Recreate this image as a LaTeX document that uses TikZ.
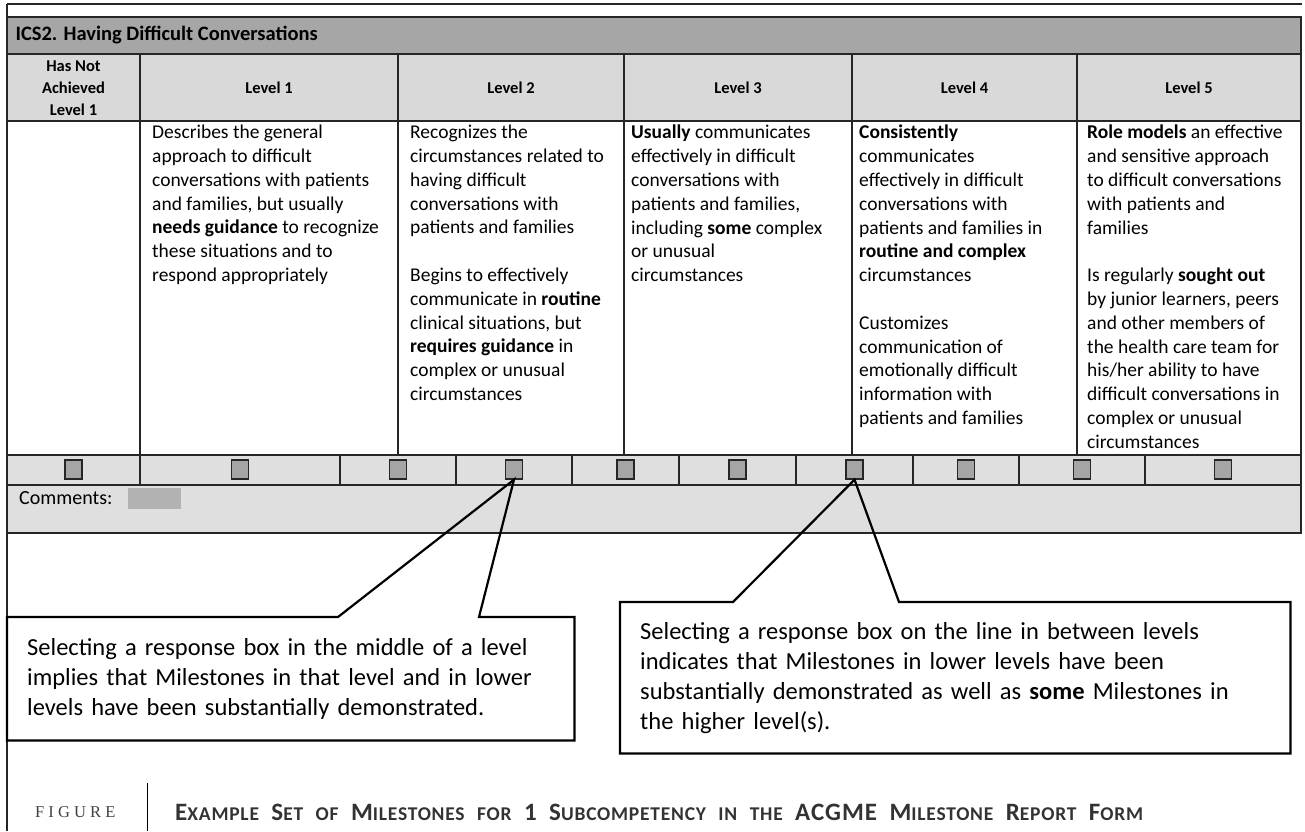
\documentclass[tikz,border=0pt]{standalone}
\usepackage{fontspec}
\setmainfont{Carlito}
\newfontfamily\figfont[LetterSpace=25]{Liberation Serif}
\newfontfamily\capfont[LetterSpace=4, WordSpace=2.4]{Carlito}
\usetikzlibrary{calc}

\definecolor{barGray}{HTML}{A6A6A6}
\definecolor{headGray}{HTML}{D9D9D9}
\definecolor{rowGray}{HTML}{DFDFDF}
\definecolor{boxGray}{HTML}{A5A5A5}
\definecolor{capGray}{HTML}{333333}

\newcommand{\bigc}[1]{{\fontsize{25}{25}\selectfont #1}}
\newcommand{\smc}[1]{{\fontsize{19.5}{25}\selectfont #1}}

\begin{document}
\begin{tikzpicture}[x=1pt, y=-1pt,
   grid/.style={draw=black!85, line width=1.3pt},
   cell/.style={anchor=north west, inner sep=0pt, align=left, font=\fontsize{19.5}{23.8}\selectfont},
   levelhead/.style={align=center, inner sep=0pt, font=\fontsize{16.5}{22}\selectfont\bfseries},
   tickbox/.style={draw=black!85, fill=boxGray, line width=1.3pt, minimum width=17pt, minimum height=19pt, inner sep=0pt},
   note/.style={anchor=north west, inner xsep=20pt, align=left, font=\fontsize{24.5}{30}\selectfont},
   callout/.style={draw=black, line width=2.2pt, line join=miter}]
   %\draw[step=100,gray,very thin] (0,0) grid (1305,831);
   \useasboundingbox (0,0) rectangle (1305,831);

   % page frame
   \draw[grid] (7,4) -- (1302,4);
   \draw[grid] (7,4) -- (7,831);

   % table bands
   \filldraw[grid, fill=barGray] (7,17) rectangle (1301,54);
   \filldraw[grid, fill=headGray] (7,54) rectangle (1301,121);
   \filldraw[grid, fill=white] (7,121) rectangle (1301,455);
   \filldraw[grid, fill=rowGray] (7,455) rectangle (1301,485);
   \filldraw[grid, fill=rowGray] (7,485) rectangle (1301,533);

   \node [anchor=west, font=\fontsize{20.5}{24}\selectfont\bfseries] (title) at (12,35.5) {ICS2. Having Difficult Conversations};

   \foreach \c in {140,398,624,852,1077}
      \draw[grid] (\c,54) -- (\c,455);

   % level headings
   \node [levelhead] (hnone) at (73.5,88) {Has Not\\Achieved\\Level 1};
   \node [levelhead] (hone) at (269,88) {Level 1};
   \node [levelhead] (htwo) at (511,88) {Level 2};
   \node [levelhead] (hthree) at (738,88) {Level 3};
   \node [levelhead] (hfour) at (964.5,88) {Level 4};
   \node [levelhead] (hfive) at (1189,88) {Level 5};

   % milestone texts
   \node [cell] (tone) at (152,125) {Describes the general\\approach to difficult\\conversations with patients\\and families, but usually\\\textbf{needs guidance} to recognize\\these situations and to\\respond appropriately};
   \node [cell] (ttwo) at (410,125) {Recognizes the\\circumstances related to\\having difficult\\conversations with\\patients and families\\[23.8pt]Begins to effectively\\communicate in \textbf{routine}\\clinical situations, but\\\textbf{requires guidance} in\\complex or unusual\\circumstances};
   \node [cell] (tthree) at (631,125) {\textbf{Usually} communicates\\effectively in difficult\\conversations with\\patients and families,\\including \textbf{some} complex\\or unusual\\circumstances};
   \node [cell] (tfour) at (859,125) {\textbf{Consistently}\\communicates\\effectively in difficult\\conversations with\\patients and families in\\\textbf{routine and complex}\\circumstances\\[23.8pt]Customizes\\communication of\\emotionally difficult\\information with\\patients and families};
   \node [cell] (tfive) at (1087,125) {\textbf{Role models} an effective\\and sensitive approach\\to difficult conversations\\with patients and\\families\\[23.8pt]Is regularly \textbf{sought out}\\by junior learners, peers\\and other members of\\the health care team for\\his/her ability to have\\difficult conversations in\\complex or unusual\\circumstances};

   % response boxes
   \foreach \a/\b [count=\i] in {7/140,140/340,340/456,456/572,572/679,679/796,796/913,913/1019,1019/1145,1145/1301} {
      \draw[grid] (\b,455) -- (\b,485);
      \node [tickbox] (cb\i) at ({(\a+\b)/2},469.5) {};
   }

   \node [anchor=west, inner sep=0pt, font=\fontsize{20}{24}\selectfont] (cmt) at (19,498) {Comments:};
   \fill[boxGray!85!white] (128,488) rectangle (181,509);

   % callouts
   \node [note, text width=527pt, minimum height=123pt] (noteone) at (7,617) {Selecting a response box in the middle of a level\\implies that Milestones in that level and in lower\\levels have been substantially demonstrated.};
   \draw[callout] (noteone.north west) -- ($(noteone.north west)+(331,0)$) -- (cb4.south) -- ($(noteone.north west)+(472,0)$) -- (noteone.north east) -- (noteone.south east) -- (noteone.south west) -- cycle;

   \node [note, text width=630pt, minimum height=151pt] (notetwo) at (620,602) {Selecting a response box on the line in between levels\\indicates that Milestones in lower levels have been\\substantially demonstrated as well as \textbf{some} Milestones in\\the higher level(s).};
   \draw[callout] (notetwo.north west) -- ($(notetwo.north west)+(113,0)$) -- (cb7.south) -- ($(notetwo.north west)+(279,0)$) -- (notetwo.north east) -- (notetwo.south east) -- (notetwo.south west) -- cycle;

   % caption
   \node [anchor=west, inner sep=0pt, text=black!75, font=\figfont\fontsize{16.5}{20}\selectfont] (figlbl) at (35,812) {FIGURE};
   \draw[black, line width=1pt] (147,783) -- (147,831);
   \node [anchor=west, inner sep=0pt, text=capGray, font=\capfont\bfseries\fontsize{19.5}{25}\selectfont] (figcap) at (175,812) {\bigc{E}\smc{XAMPLE} \bigc{S}\smc{ET} \smc{OF} \bigc{M}\smc{ILESTONES} \smc{FOR} \bigc{1} \bigc{S}\smc{UBCOMPETENCY} \smc{IN THE} \bigc{ACGME} \bigc{M}\smc{ILESTONE} \bigc{R}\smc{EPORT} \bigc{F}\smc{ORM}};

\end{tikzpicture}
\end{document}
